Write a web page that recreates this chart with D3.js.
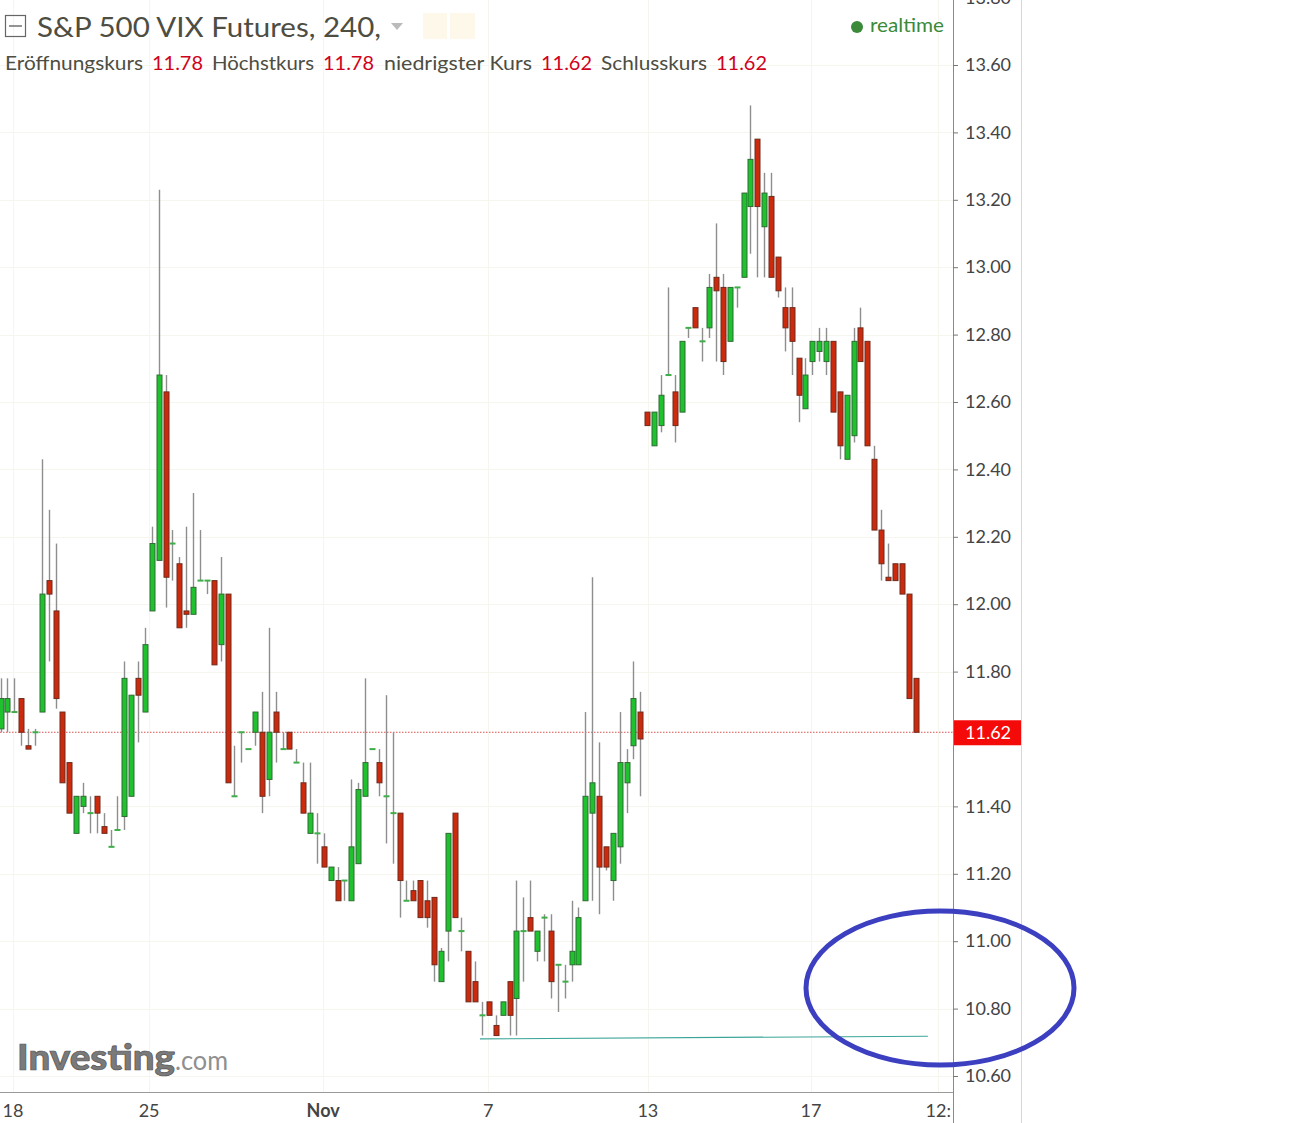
<!DOCTYPE html>
<html><head><meta charset="utf-8">
<script src="https://cdn.jsdelivr.net/npm/d3@7"></script>
<style>html,body{margin:0;padding:0;background:#fff;}svg{display:block;}</style>
</head><body>
<svg id="chart" width="1314" height="1123"></svg>
<script>
// ---- data (4h candles) ----
const open  = [11.63,11.68,11.68,11.72,11.58,11.62,11.68,12.07,11.98,11.68,11.53,11.32,11.40,11.38,11.43,11.34,11.28,11.33,11.37,11.43,
11.78,11.68,11.98,12.13,12.63,12.18,12.12,11.98,11.97,12.07,12.07,12.07,11.88,12.03,11.43,11.62,11.57,11.62,11.62,11.48,
11.68,11.57,11.62,11.53,11.47,11.32,11.32,11.28,11.18,11.18,11.18,11.12,11.23,11.43,11.57,11.53,11.43,11.38,11.38,11.12,
11.15,11.18,11.12,11.13,10.88,11.03,11.38,11.03,10.97,10.88,10.78,10.82,10.75,10.78,10.88,10.83,11.03,11.07,10.97,11.07,
11.03,10.93,10.88,10.93,10.93,11.12,11.38,11.43,11.28,11.18,11.28,11.47,11.58,11.68,12.57,12.47,12.53,12.68,12.63,12.57,
12.82,12.88,12.78,12.82,12.97,12.94,12.78,12.94,12.97,13.18,13.38,13.12,13.21,13.03,12.88,12.88,12.73,12.58,12.72,12.75,
12.72,12.78,12.63,12.43,12.50,12.82,12.78,12.43,12.22,12.08,12.12,12.12,12.03,11.78];
const high  = [11.78,11.78,11.78,11.72,11.63,11.63,12.43,12.28,12.18,11.68,11.53,11.43,11.47,11.43,11.43,11.38,11.33,11.43,11.83,11.73,
11.83,11.93,12.23,13.23,12.68,12.22,12.14,12.23,12.33,12.22,12.07,12.07,12.14,12.03,11.58,11.62,11.57,11.68,11.74,11.93,
11.74,11.62,11.62,11.57,11.53,11.53,11.38,11.32,11.22,11.22,11.18,11.48,11.47,11.78,11.57,11.57,11.73,11.62,11.38,11.18,
11.18,11.18,11.18,11.13,10.98,11.32,11.38,11.07,10.97,10.94,10.82,10.82,10.78,10.82,10.88,11.18,11.13,11.18,11.03,11.08,
11.08,10.93,10.93,11.12,11.10,11.68,12.08,11.59,11.28,11.32,11.68,11.57,11.83,11.74,12.57,12.57,12.68,12.94,12.68,12.78,
12.82,12.88,12.82,12.98,13.13,12.98,12.94,12.94,13.22,13.48,13.38,13.28,13.28,13.03,12.94,12.94,12.73,12.73,12.78,12.82,
12.82,12.78,12.63,12.62,12.82,12.88,12.78,12.47,12.28,12.18,12.12,12.12,12.03,11.78];
const low   = [11.62,11.62,11.68,11.58,11.57,11.58,11.68,11.83,11.69,11.47,11.38,11.32,11.38,11.32,11.32,11.32,11.28,11.33,11.33,11.43,
11.59,11.68,11.98,12.13,11.99,12.07,11.93,11.93,11.97,12.07,12.03,11.82,11.83,11.47,11.43,11.53,11.57,11.58,11.38,11.43,
11.53,11.57,11.57,11.53,11.38,11.32,11.23,11.22,11.18,11.12,11.12,11.12,11.23,11.43,11.57,11.43,11.29,11.23,11.07,11.12,
11.12,11.07,11.04,10.88,10.88,10.94,11.07,10.97,10.82,10.82,10.72,10.78,10.72,10.78,10.72,10.72,10.88,11.03,10.94,10.94,
10.83,10.79,10.83,10.88,10.93,11.12,11.12,11.08,11.21,11.12,11.23,11.38,11.54,11.43,12.53,12.47,12.51,12.68,12.48,12.57,
12.79,12.82,12.72,12.79,12.72,12.68,12.78,12.88,12.97,13.04,12.97,12.97,12.97,12.91,12.75,12.68,12.54,12.58,12.68,12.72,
12.68,12.57,12.43,12.43,12.48,12.72,12.47,12.22,12.07,12.07,12.07,12.03,11.72,11.62];
const close = [11.72,11.72,11.68,11.62,11.57,11.62,12.03,12.03,11.72,11.47,11.38,11.43,11.43,11.38,11.38,11.32,11.28,11.33,11.78,11.73,
11.73,11.88,12.18,12.68,12.08,12.18,11.93,11.97,12.05,12.07,12.07,11.82,12.03,11.47,11.43,11.62,11.57,11.68,11.43,11.62,
11.62,11.57,11.57,11.53,11.38,11.38,11.32,11.22,11.22,11.12,11.18,11.28,11.45,11.53,11.57,11.47,11.43,11.38,11.18,11.12,
11.12,11.07,11.07,10.93,10.97,11.32,11.07,11.03,10.82,10.82,10.78,10.78,10.72,10.82,10.78,11.03,11.03,11.03,11.03,11.07,
10.88,10.93,10.88,10.97,11.07,11.43,11.47,11.22,11.22,11.32,11.53,11.53,11.72,11.60,12.53,12.57,12.62,12.68,12.53,12.78,
12.82,12.82,12.78,12.94,12.93,12.72,12.94,12.94,13.22,13.32,13.18,13.22,12.97,12.93,12.82,12.78,12.62,12.68,12.78,12.78,
12.78,12.57,12.47,12.62,12.78,12.72,12.47,12.22,12.12,12.07,12.07,12.03,11.72,11.62];

const xTickLabels = ["18","25","Nov","7","13","17","12:"];
const xTickIndex  = [1.8, 21.6, 46.9, 70.9, 94.1, 117.8, 136.3];
const yTickValues = [10.6,10.8,11.0,11.2,11.4,11.8,12.0,12.2,12.4,12.6,12.8,13.0,13.2,13.4,13.6,13.8];
const lastPrice = 11.62;
const supportLevel = [10.71, 10.718]; // trend line start / end
const supportIndex = [69.7, 134.8];
const headerLabels = ["Eröffnungskurs","Höchstkurs","niedrigster Kurs","Schlusskurs"];
const headerValues = ["11.78","11.78","11.62","11.62"];

const candles = open.map((o,i)=>({i, o, h: high[i], l: low[i], c: close[i]}));

const svg = d3.select("#chart");
const W = 1314, H = 1123;
const plotRight = 953, axisRight = 1021, plotBottom = 1092;

const x = d3.scaleLinear().domain([0, 133]).range([0.5, 915.5]);
const y = d3.scaleLinear().domain([10.6, 13.6]).range([1076, 65]);

// grid
const grid = svg.append("g");
grid.selectAll("line.h").data(yTickValues).join("line")
  .attr("x1",0).attr("x2",plotRight).attr("y1",d=>Math.round(y(d))+0.5).attr("y2",d=>Math.round(y(d))+0.5)
  .attr("stroke","#f7f6ee").attr("stroke-width",1);
grid.selectAll("line.v").data(xTickIndex).join("line")
  .attr("x1",d=>Math.round(x(d))+0.5).attr("x2",d=>Math.round(x(d))+0.5).attr("y1",0).attr("y2",plotBottom)
  .attr("stroke","#f7f6ee").attr("stroke-width",1);

// logo
const logo = svg.append("text").attr("x",17).attr("y",1070).attr("font-family","Lato, 'Open Sans', sans-serif");
logo.append("tspan").text("Investing").attr("font-size",36).attr("font-weight",900).attr("fill","#7a7a7a")
  .attr("stroke","#555").attr("stroke-width",0.7).attr("textLength",158).attr("lengthAdjust","spacingAndGlyphs");
logo.append("tspan").text(".com").attr("font-size",27).attr("fill","#8f8f8f")
  .attr("textLength",53).attr("lengthAdjust","spacingAndGlyphs");

// last price line
svg.append("line").attr("x1",0).attr("x2",plotRight).attr("y1",y(lastPrice)).attr("y2",y(lastPrice))
  .attr("stroke","#d9534f").attr("stroke-width",1).attr("stroke-dasharray","1.5,1.5");

// candles
const g = svg.append("g");
const bw = 5;
g.selectAll("line.wick").data(candles).join("line")
  .attr("x1",d=>Math.round(x(d.i))+0.5).attr("x2",d=>Math.round(x(d.i))+0.5)
  .attr("y1",d=>y(d.h)).attr("y2",d=>y(d.l))
  .attr("stroke","#8e8e8e").attr("stroke-width",1.4);
const bodies = candles.filter(d=>Math.abs(y(d.o)-y(d.c))>=2);
const dojis = candles.filter(d=>Math.abs(y(d.o)-y(d.c))<2);
g.selectAll("rect.body").data(bodies).join("rect")
  .attr("x",d=>Math.round(x(d.i))+0.5-bw/2).attr("width",bw)
  .attr("y",d=>y(Math.max(d.o,d.c))).attr("height",d=>Math.abs(y(d.o)-y(d.c)))
  .attr("fill",d=>d.c>d.o?"#1fc22e":"#cc2a0c")
  .attr("stroke",d=>d.c>d.o?"#2f6b33":"#6e2a1c").attr("stroke-width",1);
g.selectAll("rect.doji").data(dojis).join("rect")
  .attr("x",d=>Math.round(x(d.i))+0.5-bw/2-0.5).attr("width",bw+1)
  .attr("y",d=>y(d.c)-1).attr("height",2)
  .attr("fill",d=>d.c<d.o?"#cc2a0c":"#3fae4a");

// support line
svg.append("line").attr("x1",x(supportIndex[0])).attr("x2",x(supportIndex[1]))
  .attr("y1",y(supportLevel[0])).attr("y2",y(supportLevel[1]))
  .attr("stroke","#3aa597").attr("stroke-width",1.2);

// axes frame
svg.append("line").attr("x1",0).attr("x2",plotRight).attr("y1",plotBottom+0.5).attr("y2",plotBottom+0.5).attr("stroke","#9a9a9a");
svg.append("line").attr("x1",plotRight+0.5).attr("x2",plotRight+0.5).attr("y1",0).attr("y2",H).attr("stroke","#8a8a8a");
svg.append("line").attr("x1",axisRight+0.5).attr("x2",axisRight+0.5).attr("y1",0).attr("y2",H).attr("stroke","#d6d6d6");

// y axis
const yAxis = d3.axisRight(y).tickValues(yTickValues).tickFormat(d3.format(".2f")).tickSize(5).tickPadding(7);
const ya = svg.append("g").attr("transform",`translate(${plotRight},0)`).call(yAxis);
ya.select(".domain").remove();
ya.selectAll(".tick line").attr("stroke","#777");
ya.selectAll(".tick text").attr("font-family","Lato, 'Open Sans', sans-serif").attr("font-size",18).attr("fill","#444");

// last price tag
svg.append("rect").attr("x",plotRight+1).attr("y",y(lastPrice)-12).attr("width",axisRight-plotRight-1).attr("height",25).attr("fill","#f50a0a");
svg.append("text").attr("x",965).attr("y",y(lastPrice)+6.5).text(d3.format(".2f")(lastPrice))
  .attr("font-family","Lato, 'Open Sans', sans-serif").attr("font-size",18).attr("fill","#fff");

// x axis labels
svg.append("g").selectAll("text").data(xTickLabels).join("text")
  .attr("x",(d,i)=>x(xTickIndex[i])).attr("y",1117).attr("text-anchor","middle")
  .attr("font-family","Lato, 'Open Sans', sans-serif").attr("font-size",18)
  .attr("font-weight",d=>d==="Nov"?"bold":"normal").attr("fill","#444").text(d=>d);

// header
const hdrFont = "Lato, 'Open Sans', sans-serif";
const ic = svg.append("g");
ic.append("rect").attr("x",5.5).attr("y",15.5).attr("width",20).attr("height",21).attr("fill","none").attr("stroke","#666").attr("stroke-width",1.2);
ic.append("line").attr("x1",9).attr("x2",22).attr("y1",26).attr("y2",26).attr("stroke","#666").attr("stroke-width",1.4);
svg.append("text").attr("x",37).attr("y",37).text("S&P 500 VIX Futures, 240,")
  .attr("font-family",hdrFont).attr("font-size",27).attr("fill","#4d4d42")
  .attr("textLength",344).attr("lengthAdjust","spacingAndGlyphs");
svg.append("path").attr("d","M391,23 L403,23 L397,30 Z").attr("fill","#bbb");
svg.append("rect").attr("x",423).attr("y",13).attr("width",24).attr("height",26).attr("fill","#fdf8ea");
svg.append("rect").attr("x",450).attr("y",13).attr("width",25).attr("height",26).attr("fill","#fdf8ea");
svg.append("circle").attr("cx",857).attr("cy",27).attr("r",6).attr("fill","#3a8a3a");
svg.append("text").attr("x",870).attr("y",32).text("realtime").attr("font-family",hdrFont).attr("font-size",19).attr("fill","#3a8a3a")
  .attr("textLength",74).attr("lengthAdjust","spacingAndGlyphs");

const lblX = [5,212,384,601], lblW = [138,102,148,106];
const valX = [152,323,541,716];
headerLabels.forEach((t,i)=>{
  svg.append("text").attr("x",lblX[i]).attr("y",70).text(t).attr("font-family",hdrFont).attr("font-size",20)
    .attr("fill","#4d4d42").attr("textLength",lblW[i]).attr("lengthAdjust","spacingAndGlyphs");
  svg.append("text").attr("x",valX[i]).attr("y",70).text(headerValues[i]).attr("font-family",hdrFont).attr("font-size",20)
    .attr("fill","#d0021b").attr("textLength",51).attr("lengthAdjust","spacingAndGlyphs");
});

// annotation ellipse
svg.append("ellipse").attr("cx",940).attr("cy",988).attr("rx",134).attr("ry",77)
  .attr("fill","none").attr("stroke","#3b3fc0").attr("stroke-width",5);
</script>
</body></html>
